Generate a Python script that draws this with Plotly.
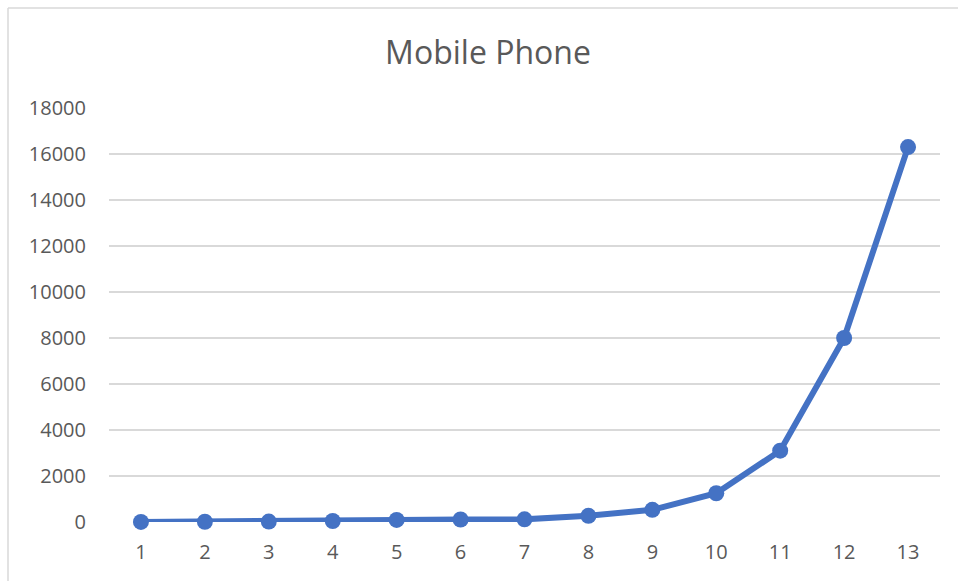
import plotly.graph_objects as go

categories = [str(i) for i in range(1, 14)]
values = [5, 10, 20, 45, 90, 110, 115, 270, 530, 1250, 3100, 8000, 16300]
y_ticks = list(range(0, 18001, 2000))
y_tick_labels = [str(v) for v in y_ticks]

L, R, T, B = 109, 18, 108, 59
W, H = 958, 581
pw = W - L - R
ph = H - T - B

fig = go.Figure()
fig.add_trace(go.Scatter(
    x=categories, y=values, mode="lines+markers",
    line=dict(color="#4472C4", width=6),
    marker=dict(color="#4472C4", size=16),
    cliponaxis=False,
    hoverinfo="x+y",
))

fig.update_layout(
    width=W, height=H,
    margin=dict(l=L, r=R, t=T, b=B),
    paper_bgcolor="white", plot_bgcolor="white",
    showlegend=False,
    title=dict(text="Mobile Phone", x=488 / W, xanchor="center", xref="container",
               y=1 - 53 / H, yanchor="middle",
               font=dict(family="Open Sans", size=32, color="#595959")),
    font=dict(family="Open Sans", color="#595959"),
    xaxis=dict(type="category", range=[-0.5, 12.5], showgrid=False,
               showline=False, zeroline=False, ticks="", ticklabelstandoff=16,
               tickfont=dict(size=20, color="#595959")),
    yaxis=dict(range=[0, 18000], tickvals=y_ticks, ticktext=y_tick_labels,
               showgrid=True, gridcolor="#D9D9D9", gridwidth=1.5, zeroline=False,
               showline=False, ticks="", ticklabelstandoff=22,
               tickfont=dict(size=20, color="#595959")),
    shapes=[
        dict(type="line", xref="paper", yref="paper",
             x0=(8 - L) / pw, x1=(W + 5 - L) / pw,
             y0=(H - B - 8) / ph, y1=(H - B - 8) / ph,
             line=dict(color="#D9D9D9", width=1.5)),
        dict(type="line", xref="paper", yref="paper",
             x0=(8 - L) / pw, x1=(8 - L) / pw,
             y0=(H - B - 8) / ph, y1=-(B + 5) / ph,
             line=dict(color="#D9D9D9", width=1.5)),
    ],
)

fig.write_html("out.html")
